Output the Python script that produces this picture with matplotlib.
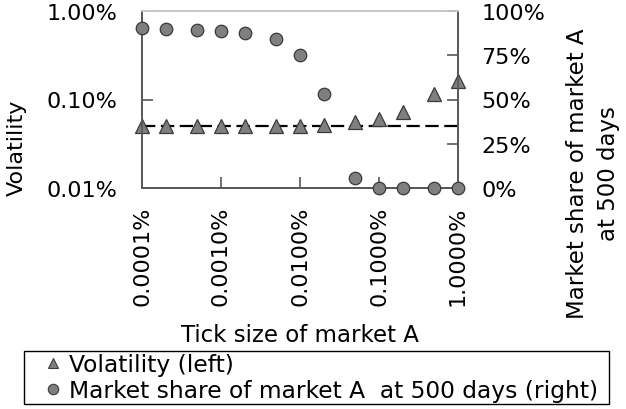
import matplotlib
matplotlib.use("Agg")
import matplotlib.pyplot as plt
from matplotlib.lines import Line2D
from matplotlib.patches import Rectangle

plt.rcParams['font.family'] = ['DejaVu Sans']

# tick size of market A (in %)
tick_size = [0.0001, 0.0002, 0.0005, 0.001, 0.002, 0.005, 0.01,
             0.02, 0.05, 0.1, 0.2, 0.5, 1.0]
# volatility (in %), left axis
volatility = [0.050, 0.050, 0.050, 0.050, 0.050, 0.050, 0.0505,
              0.051, 0.055, 0.060, 0.073, 0.114, 0.162]
# market share of market A at 500 days (in %), right axis
market_share = [90.2, 89.8, 89.3, 88.9, 87.4, 84.2, 75.1,
                52.9, 5.6, 0.0, 0.0, 0.0, 0.0]
baseline_vol = 0.05

xticks = [0.0001, 0.001, 0.01, 0.1, 1.0]
xtick_labels = ['0.0001%', '0.0010%', '0.0100%', '0.1000%', '1.0000%']
yticks_left = [0.01, 0.1, 1.0]
ytick_left_labels = ['0.01%', '0.10%', '1.00%']
yticks_right = [0, 25, 50, 75, 100]
ytick_right_labels = ['0%', '25%', '50%', '75%', '100%']

W, H = 626, 410
fs = 16
fig = plt.figure(figsize=(W / 100, H / 100), dpi=100)
ax1 = fig.add_axes([142 / W, 1 - 189 / H, 316 / W, 177 / H])
ax2 = ax1.twinx()

spine_col = '#595959'
face = '#7f7f7f'
edge = '#3a3a3a'

ax1.axhline(baseline_vol, color='black', lw=1.6, dashes=(6, 2.5), zorder=1)
ax1.plot(tick_size, volatility, ls='none', marker='^', ms=9.5,
         mfc=face, mec=edge, mew=0.9, clip_on=False, zorder=3)
ax2.plot(tick_size, market_share, ls='none', marker='o', ms=9,
         mfc=face, mec=edge, mew=0.9, clip_on=False, zorder=3)

ax1.set_xscale('log')
ax1.set_yscale('log')
ax1.set_xlim(0.0001, 1.0)
ax1.set_ylim(0.01, 1.0)
ax2.set_ylim(0, 100)

ax1.set_xticks(xticks)
ax1.set_xticklabels(xtick_labels, rotation=90)
ax1.set_yticks(yticks_left)
ax1.set_yticklabels(ytick_left_labels)
ax1.minorticks_off()
ax2.set_yticks(yticks_right)
ax2.set_yticklabels(ytick_right_labels)

for ax in (ax1, ax2):
    for side in ('left', 'right', 'bottom'):
        ax.spines[side].set_color(spine_col)
        ax.spines[side].set_linewidth(1.3)
    ax.spines['top'].set_color('#c8c8c8')
    ax.spines['top'].set_linewidth(1.3)
    ax.tick_params(direction='in', length=8, width=1.2, color=spine_col,
                   labelsize=fs, labelcolor='black')
ax1.tick_params(axis='y', pad=18)
ax1.tick_params(axis='x', pad=13)
ax2.tick_params(axis='y', pad=17)
ax2.set_zorder(ax1.get_zorder() + 1)
ax2.patch.set_visible(False)

fig.text(17 / W, 1 - 148 / H, 'Volatility', rotation=90, ha='center',
         va='center', fontsize=fs)
fig.text(593 / W, 1 - 174 / H, 'Market share of market A\nat 500 days',
         rotation=90, ha='center', va='center', fontsize=fs + 0.5,
         multialignment='center', linespacing=1.4)
fig.text(300 / W, 1 - 336 / H, 'Tick size of market A', ha='center',
         va='center', fontsize=fs + 0.5)

# legend box below the plot
fig.add_artist(Rectangle((24 / W, 1 - 405 / H), 585 / W, 53 / H,
                         transform=fig.transFigure, fill=False,
                         ec='black', lw=1.0))
handles = [
    Line2D([], [], ls='none', marker='^', ms=7, mfc=face, mec=edge, mew=0.8),
    Line2D([], [], ls='none', marker='o', ms=7.5, mfc=face, mec=edge, mew=0.8),
]
labels = ['Volatility (left)', 'Market share of market A  at 500 days (right)']
leg_fs = 16.8
fig.legend(handles, labels, loc='center left',
           bbox_to_anchor=((53 - leg_fs * 100 / 72 / 2) / W, 1 - 378.5 / H),
           borderaxespad=0, borderpad=0, fontsize=leg_fs, frameon=False,
           handlelength=1.0, handletextpad=0.2, labelspacing=0.12)

fig.savefig('out.png', dpi=100)
